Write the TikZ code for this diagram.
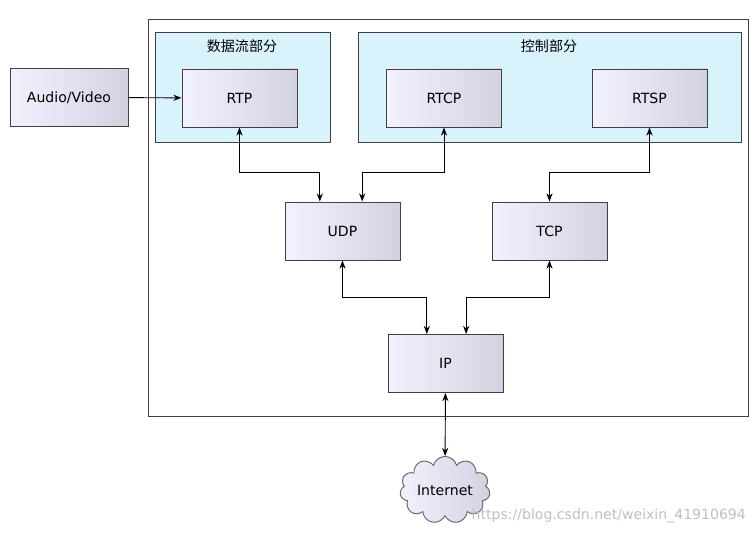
\documentclass[tikz,border=0pt]{standalone}
\usepackage{fontspec}
\setmainfont{DejaVu Sans}
\newfontfamily\cjk{Noto Sans CJK SC}
\usetikzlibrary{shapes.symbols,arrows.meta}

\tikzset{
  proto/.style={draw=black!75, thick, left color=blue!5, right color=blue!20!gray!30,
    minimum width=3.45cm, minimum height=1.74cm, font=\large},
  group/.style={draw=black!75, thick, fill=cyan!15},
  link/.style={thick, {Stealth[length=7pt]}-{Stealth[length=7pt]}}
}

\begin{document}
\begin{tikzpicture}[x=0.03cm, y=-0.03cm]
        \useasboundingbox (0,0) rectangle (756,534);
        \draw[thick, black!75] (148,19) rectangle (748,416);
        \draw[group] (155,32) rectangle (330,142);
        \draw[group] (358,32) rectangle (741,142);
        \node[font=\cjk\large] (data) at (242,46) {数据流部分};
        \node[font=\cjk\large] (ctrl) at (549,46) {控制部分};

        \node[proto, minimum width=3.54cm] (av) at (69,97.5) {Audio/Video};
        \node[proto] (rtp) at (239.5,98) {RTP};
        \node[proto] (rtcp) at (444,98) {RTCP};
        \node[proto] (rtsp) at (649.5,98) {RTSP};
        \node[proto] (udp) at (342.5,231) {UDP};
        \node[proto] (tcp) at (549.5,231) {TCP};
        \node[proto] (ip) at (445.5,363.5) {IP};
        \node[cloud, cloud puffs=11, aspect=1.6, draw=black!60, thick, left color=blue!5,
              right color=blue!20!gray!30, font=\large, inner sep=1pt] (net) at (445,490) {Internet};

        \draw[thick, -{Stealth[length=7pt]}] (av) -- (rtp);
        \draw[link] (rtp.south) -- ++(0,45) -| ([xshift=-0.68cm]udp.north);
        \draw[link] (rtcp.south) -- ++(0,45) -| ([xshift=0.59cm]udp.north);
        \draw[link] (rtsp.south) -- ++(0,45) -| (tcp.north);
        \draw[link] (udp.south) -- ++(0,37) -| ([xshift=-0.56cm]ip.north);
        \draw[link] (tcp.south) -- ++(0,37) -| ([xshift=0.62cm]ip.north);
        \draw[link] (ip) -- (net);

        \node[text=black!25, font=\large, anchor=east] (mark) at (750,516) {https://blog.csdn.net/weixin\_41910694};
\end{tikzpicture}
\end{document}
